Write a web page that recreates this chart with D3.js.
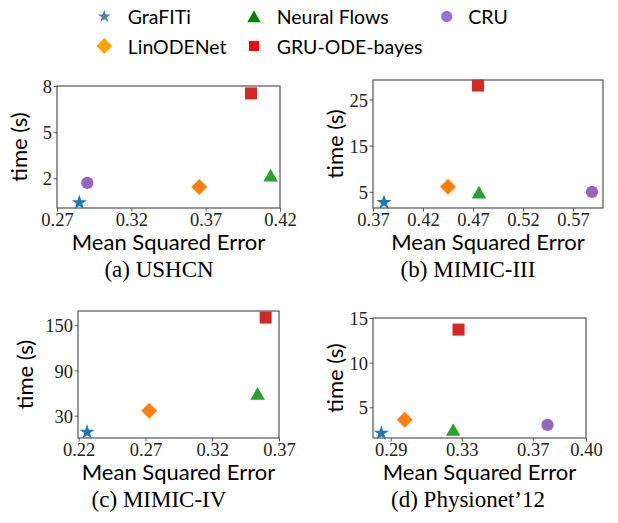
<!DOCTYPE html>
<html>
<head>
<meta charset="utf-8">
<script src="https://cdn.jsdelivr.net/npm/d3@7"></script>
<style>
  body { margin: 0; background: #fff; }
  svg { display: block; }
</style>
</head>
<body>
<svg id="chart" width="618" height="523"></svg>
<script>
// methods, in legend order (column-wise, 3 columns)
const methods = ['GraFITi', 'LinODENet', 'Neural Flows', 'GRU-ODE-bayes', 'CRU'];
const captions = ['(a) USHCN', '(b) MIMIC-III', '(c) MIMIC-IV', '(d) Physionet\u201912'];

// mean squared error / time (s) per dataset, same order as methods
const mseUSHCN = [0.285, 0.3657, 0.4137, 0.4005, 0.2904];
const timeUSHCN = [0.42, 1.44, 2.2, 7.52, 1.7];
const mseMIMIC3 = [0.381, 0.445, 0.476, 0.475, 0.589];
const timeMIMIC3 = [2.7, 6.1, 4.9, 28.0, 5.0];
const mseMIMIC4 = [0.2263, 0.2728, 0.354, 0.360, null];
const timeMIMIC4 = [8.2, 36.6, 59.4, 160, null];
const msePhysionet = [0.2847, 0.2979, 0.3252, 0.3282, 0.3783];
const timePhysionet = [2.1, 3.6, 2.5, 13.7, 3.03];

const xTicks = [
  [0.27, 0.32, 0.37, 0.42],
  [0.37, 0.42, 0.47, 0.52, 0.57],
  [0.22, 0.27, 0.32, 0.37],
  [0.29, 0.33, 0.37, 0.40],
];
const yTicks = [[2, 5, 8], [5, 15, 25], [30, 90, 150], [5, 10, 15]];
const xDomains = [[0.27, 0.42], [0.37, 0.60], [0.2195, 0.37], [0.28, 0.40]];
const yDomains = [[0.07, 8], [1.5, 29.2], [0.4, 168.7], [1.56, 15]];

const plotColors = ['#1f77b4', '#ff7f0e', '#2ca02c', '#d62728', '#9467bd'];
const legendColors = ['#4682b4', '#ffa500', '#008000', '#ff0000', '#9370db'];

// frame boxes of each subplot [left, top, right, bottom]
const frames = [
  [57, 86, 280, 208],
  [373, 80, 603, 208],
  [78, 311, 279, 438],
  [373, 318, 586, 438],
];

const series = [
  [mseUSHCN, timeUSHCN],
  [mseMIMIC3, timeMIMIC3],
  [mseMIMIC4, timeMIMIC4],
  [msePhysionet, timePhysionet],
];

const SANS = 'Lato, "DejaVu Sans", sans-serif';
const SERIF = '"Liberation Serif", "DejaVu Serif", serif';

const svg = d3.select('#chart');

// marker path per method (big = inside the plots, small = legend)
const markerPath = (i, big) => {
  switch (i) {
    case 0: return d3.symbol(d3.symbolStar, big ? 72 : 52)();
    case 1: return d3.symbol(d3.symbolSquare, big ? 128 : 125)();
    case 2: return d3.symbol(d3.symbolTriangle, big ? 92 : 78)();
    case 3: return d3.symbol(d3.symbolSquare, big ? 144 : 100)();
    default: return d3.symbol(d3.symbolCircle, big ? 120 : 100)();
  }
};
const markerTransform = (i, x, y, big) => {
  if (i === 1) return `translate(${x},${y}) rotate(45)`;
  if (i === 2) return `translate(${x},${y + (big ? 2 : 1.8)})`;
  return `translate(${x},${y})`;
};

// ---- panels ----
frames.forEach((f, p) => {
  const [l, t, r, b] = f;
  const x = d3.scaleLinear().domain(xDomains[p]).range([l, r]);
  const y = d3.scaleLinear().domain(yDomains[p]).range([b, t]);
  const g = svg.append('g');

  const xAxis = g.append('g')
    .attr('transform', `translate(0,${b})`)
    .call(d3.axisBottom(x).tickValues(xTicks[p]).tickFormat(d3.format('.2f')).tickSize(3.5).tickPadding(1.5));
  const yAxis = g.append('g')
    .attr('transform', `translate(${l},0)`)
    .call(d3.axisLeft(y).tickValues(yTicks[p]).tickFormat(d3.format('d')).tickSize(3.5).tickPadding(1.5));
  [xAxis, yAxis].forEach((ax) => {
    ax.select('.domain').remove();
    ax.selectAll('line').attr('stroke', '#333').attr('stroke-width', 0.8);
    ax.selectAll('text')
      .attr('fill', '#222')
      .style('font-family', SERIF)
      .style('font-size', '18.5px');
  });
  xAxis.selectAll('text').attr('dy', '0.7em');
  yAxis.selectAll('text').attr('dy', '0.36em');

  g.append('rect')
    .attr('x', l).attr('y', t)
    .attr('width', r - l).attr('height', b - t)
    .attr('fill', 'none').attr('stroke', '#444').attr('stroke-width', 1.1);

  const [mse, time] = series[p];
  methods.forEach((m, i) => {
    if (mse[i] == null) return;
    g.append('path')
      .attr('d', markerPath(i, true))
      .attr('transform', markerTransform(i, x(mse[i]), y(time[i]), true))
      .attr('fill', plotColors[i]);
  });

  g.append('text')
    .attr('x', (l + r) / 2).attr('y', b + 33)
    .attr('text-anchor', 'middle').attr('dominant-baseline', 'central')
    .style('font-family', SANS).style('font-size', '22px')
    .text('Mean Squared Error');

  const labelX = p % 2 === 0 ? (p === 0 ? 18 : 24) : 334;
  g.append('text')
    .attr('transform', `translate(${labelX},${(t + b) / 2}) rotate(-90)`)
    .attr('text-anchor', 'middle').attr('dominant-baseline', 'central')
    .style('font-family', SANS).style('font-size', '22px')
    .text('time (s)');

  const capX = p % 2 === 0 ? 159 : 468;
  g.append('text')
    .attr('x', capX).attr('y', b + 61)
    .attr('text-anchor', 'middle').attr('dominant-baseline', 'central')
    .style('font-family', SERIF).style('font-size', '23px')
    .text(captions[p]);
});

// ---- legend ----
const legendCols = [104.3, 254, 446.7];
const legendRows = [16.5, 46];
const legendTextCols = [127.7, 276.7, 468.3];
const legend = svg.append('g');
methods.forEach((m, i) => {
  const col = Math.floor(i / 2);
  const row = i % 2;
  legend.append('path')
    .attr('d', markerPath(i, false))
    .attr('transform', markerTransform(i, legendCols[col], legendRows[row], false))
    .attr('fill', legendColors[i]);
  legend.append('text')
    .attr('x', legendTextCols[col]).attr('y', legendRows[row])
    .attr('dominant-baseline', 'central')
    .style('font-family', SANS).style('font-size', '19.5px')
    .text(m);
});
</script>
</body>
</html>
